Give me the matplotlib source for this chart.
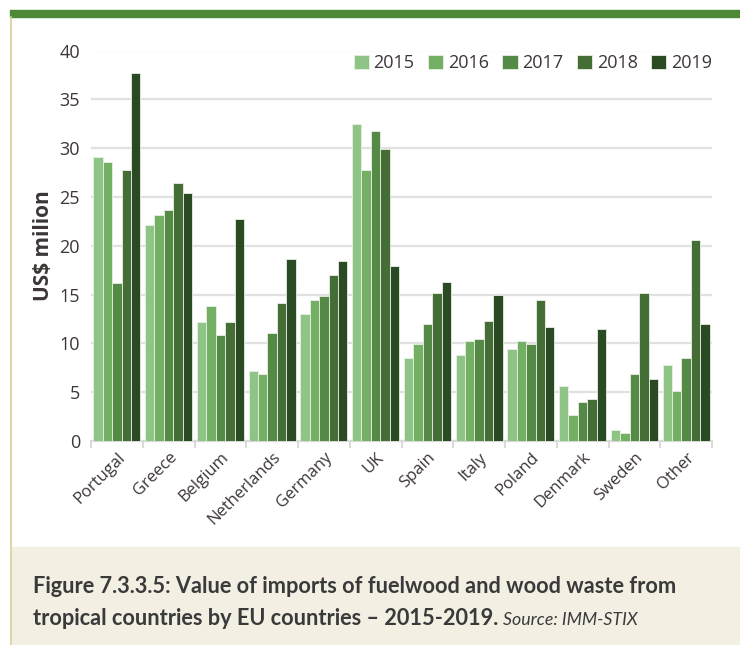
import numpy as np
import matplotlib
matplotlib.use('Agg')
import matplotlib.pyplot as plt
from matplotlib.patches import Rectangle
from matplotlib.lines import Line2D

countries = ['Portugal', 'Greece', 'Belgium', 'Netherlands', 'Germany', 'UK',
             'Spain', 'Italy', 'Poland', 'Denmark', 'Sweden', 'Other']
years = ['2015', '2016', '2017', '2018', '2019']

v2015 = [29.1, 22.1, 12.2, 7.2, 13.0, 32.5, 8.5, 8.8, 9.4, 5.6, 1.1, 7.8]
v2016 = [28.6, 23.2, 13.8, 6.9, 14.4, 27.8, 9.9, 10.2, 10.2, 2.7, 0.8, 5.1]
v2017 = [16.2, 23.7, 10.9, 11.1, 14.9, 31.8, 12.0, 10.4, 9.9, 4.0, 6.9, 8.5]
v2018 = [27.8, 26.4, 12.2, 14.1, 17.0, 29.9, 15.2, 12.3, 14.4, 4.3, 15.2, 20.6]
v2019 = [37.7, 25.4, 22.7, 18.6, 18.4, 17.9, 16.3, 15.0, 11.7, 11.5, 6.4, 12.0]
series = [v2015, v2016, v2017, v2018, v2019]

colors = ['#8ec586', '#73b063', '#558a46', '#446e36', '#2a4a24']
text_col = '#3d3636'

plt.rcParams['font.family'] = ['Open Sans', 'DejaVu Sans']

fig = plt.figure(figsize=(7.4, 6.45), dpi=100)

# frame decorations
fig.patches.append(Rectangle((10 / 740, 1 - 17 / 645), 730 / 740, 7 / 645,
                             transform=fig.transFigure, color='#4e8a36', zorder=0))
fig.lines.append(Line2D([11 / 740, 11 / 740], [0, 1 - 17 / 645],
                        transform=fig.transFigure, color='#d8cf93', lw=1.2))
fig.patches.append(Rectangle((12 / 740, 0), 728 / 740, 98 / 645,
                             transform=fig.transFigure, color='#f3efe3', zorder=0))

ax = fig.add_axes([91 / 740, (645 - 441) / 645, (712 - 91) / 740, (441 - 50.5) / 645])

x = np.arange(len(countries))
w = 0.182
for i, (vals, c) in enumerate(zip(series, colors)):
    ax.bar(x + (i - 2) * w, vals, width=w, color=c, edgecolor='#e9f0e4',
           linewidth=0.6, label=years[i], zorder=3)

ax.set_xlim(-0.5, len(countries) - 0.5)
ax.set_ylim(0, 40)
ax.set_yticks(np.arange(0, 41, 5))
ax.yaxis.grid(True, color='#e1e1e1', lw=1.6, zorder=0)
ax.set_axisbelow(True)
for s in ['top', 'right', 'left']:
    ax.spines[s].set_visible(False)
ax.spines['bottom'].set_color('#d9d9d9')
ax.spines['bottom'].set_linewidth(1.6)

ax.tick_params(axis='y', length=0, pad=8, labelsize=13, labelcolor=text_col)
ax.set_xticks(x)
ax.set_xticklabels(countries, rotation=45, ha='right', rotation_mode='anchor',
                   fontsize=12, color=text_col)
ax.tick_params(axis='x', length=0, pad=6)
ax.set_xticks(np.arange(-0.5, len(countries), 1), minor=True)
ax.tick_params(axis='x', which='minor', length=5, width=1.4, color='#d9d9d9')

ax.set_ylabel('US$ milion', fontsize=15, fontweight='bold', color=text_col, labelpad=4)

leg = ax.legend(loc='upper right', bbox_to_anchor=(1.0, 0.99), ncol=5, frameon=False,
                fontsize=13, handlelength=0.85, handleheight=0.85, handletextpad=0.25,
                columnspacing=0.75, borderaxespad=0, borderpad=0)
for t in leg.get_texts():
    t.set_color(text_col)

cap_font = ['Lato', 'DejaVu Sans']
fig.text(33 / 740, 1 - 593 / 645,
         'Figure 7.3.3.5: Value of imports of fuelwood and wood waste from',
         fontsize=15.7, fontweight='bold', color='#3a3a3a', family=cap_font,
         va='baseline')
t2 = fig.text(33 / 740, 1 - 625 / 645,
              'tropical countries by EU countries \u2013 2015-2019.',
              fontsize=15.7, fontweight='bold', color='#3a3a3a', family=cap_font,
              va='baseline')
fig.canvas.draw()
bb = t2.get_window_extent()
fig.text(bb.x1 / 740 + 5 / 740, 1 - 625 / 645, 'Source: IMM-STIX', fontsize=12.8,
         style='italic', color='#3a3a3a', family=cap_font, va='baseline')

fig.savefig('out.png', dpi=100)
